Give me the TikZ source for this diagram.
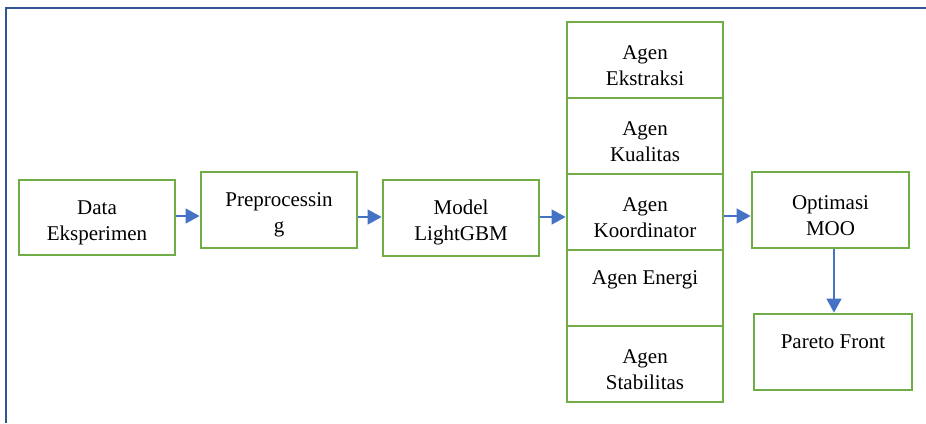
\documentclass[tikz,border=0pt]{standalone}
\usepackage{fontspec}
\setmainfont{Liberation Serif}
\usetikzlibrary{arrows.meta}
\definecolor{boxgreen}{HTML}{70AD47}
\definecolor{arrowblue}{HTML}{4472C4}
\definecolor{framblue}{HTML}{2F5597}
\newcommand{\topstrut}{\rule{0pt}{24.5pt}}
\tikzset{
  box/.style={draw=boxgreen, line width=2.8pt, fill=white, minimum width=156pt, minimum height=76pt,
    inner sep=0pt, align=center, font=\fontsize{21}{26}\selectfont},
  flow/.style={draw=arrowblue, line width=1.3pt, -{Triangle[length=14pt,width=15pt]}},
  frame/.style={draw=framblue, line width=2.6pt}
}
\begin{document}
\begin{tikzpicture}[x=1pt,y=1pt]
\useasboundingbox (0,0) rectangle (926,-423);
\coordinate (ftl) at (5.8,-8);
\coordinate (ftr) at (926,-8);
\coordinate (fbl) at (5.8,-423);
\draw[frame] (fbl) -- (ftl) -- (ftr);

\node[box, minimum height=75pt] (data) at (97,-217.5) {\topstrut Data\\Eksperimen};
\node[box] (prep) at (279,-210) {\topstrut Preprocessin\\g};
\node[box] (model) at (461,-218) {\topstrut Model\\LightGBM};

\node[box] (ekstraksi) at (645,-60) {\topstrut Agen\\Ekstraksi};
\node[box] (kualitas) at (645,-136) {\topstrut Agen\\Kualitas};
\node[box] (koord) at (645,-212) {\topstrut Agen\\Koordinator};
\node[box] (energi) at (645,-288) {\topstrut Agen Energi\\\phantom{g}};
\node[box] (stabil) at (645,-364) {\topstrut Agen\\Stabilitas};

\node[box, minimum width=157pt] (moo) at (830.5,-210) {\topstrut Optimasi\\MOO};
\node[box, minimum width=158pt] (pareto) at (833,-352) {\topstrut Pareto Front\\\phantom{g}};

\coordinate (r1) at (0,-216);
\coordinate (r2) at (0,-217);
\coordinate (r3) at (0,-217);
\coordinate (r4) at (0,-216);
\draw[flow] (data.east |- r1) -- (prep.west |- r1);
\draw[flow] (prep.east |- r2) -- (model.west |- r2);
\draw[flow] (model.east |- r3) -- (koord.west |- r3);
\draw[flow] (koord.east |- r4) -- (moo.west |- r4);
\coordinate (vx) at (834,0);
\draw[flow] (vx |- moo.south) -- (vx |- pareto.north);
\end{tikzpicture}
\end{document}
